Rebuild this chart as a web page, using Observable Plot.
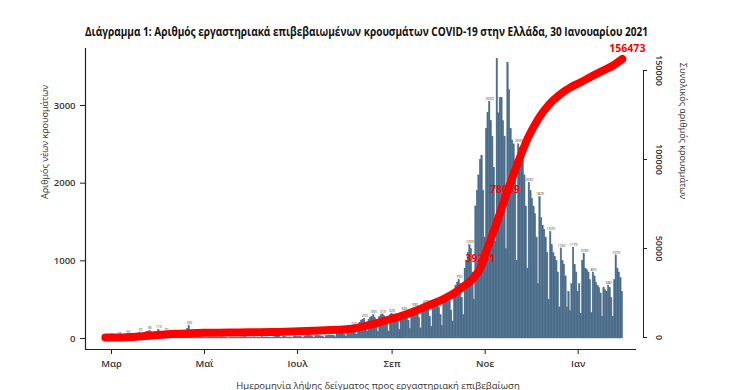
<!DOCTYPE html>
<html><head><meta charset="utf-8">
<script src="https://cdn.jsdelivr.net/npm/d3@7"></script>
<script src="https://cdn.jsdelivr.net/npm/@observablehq/plot@0.6"></script>
<style>
body{margin:0;background:#fff;width:734px;height:390px;overflow:hidden;}
#title{height:40px;box-sizing:border-box;padding:23px 0 0 85px;line-height:14px;white-space:nowrap;}
#title span{display:inline-block;font:bold 12px "Open Sans",sans-serif;color:#111;transform-origin:0 50%;}
</style></head><body>
<div id="title"><span id="tt">Διάγραμμα 1: Αριθμός εργαστηριακά επιβεβαιωμένων κρουσμάτων COVID-19 στην Ελλάδα, 30 Ιανουαρίου 2021</span></div>
<div id="chart"></div>
<script>
// Daily new cases by sample date (Feb 26 2020 .. Jan 30 2021)
const feb = [1, 1, 0, 1];
const mar = [2,3,4,10,12,18,9, 6,25,30,35,50,45,30, 20,55,60,58,65,70,50, 35,75,80,85,95,90,60, 35,70,80];
const apr = [110,90,80,60, 25,70,65,55,50,45,30, 15,35,30,40,35,30,25, 10,120,160,30,25,20,15, 8,15,20,15,12];
const may = [10,8, 4,12,15,10,14,12,8, 3,10,12,14,8,10,6, 2,8,12,10,9,11,6, 3,8,12,15,20,10,8, 3];
const jun = [12,10,15,8,10,6, 4,18,12,10,15,10,8, 5,12,15,20,35,45,12, 6,25,18,15,12,14,10, 5,25,30];
const jul = [20,18,25,15, 8,25,30,28,35,30,20, 10,30,35,28,30,25,20, 12,30,35,40,38,35,28, 15,55,60,70,75,70];
const aug = [50, 25,110,120,130,140,150,110, 50,170,200,230,240,250,190, 90,240,270,280,300,260,200, 80,280,300,310,290,270,200, 90,300];
const sep = [320,300,310,290,220, 110,320,330,340,320,300,230, 120,350,380,390,370,350,260, 130,400,420,430,410,380,280, 150,420,440,430];
const oct = [420,400,300, 160,450,480,500,520,480,360, 220,600,680,720,750,700,520, 300,900,1000,1100,1200,1150,850, 500,1700,1900,2100,2300,2350,1900];
const nov = [1300, 2700,2900,3050,2800,2600,2200, 1250, 3600,2900,3100,3100,2800,2600, 1150, 3550,3200,2700,2550,2500,2100, 1000, 2500,2450,2400,2300,2100,1700, 900, 2000];
const dec = [1900,1800,1700,1600,1300, 700, 1820,1550,1450,1400,1300,1100, 500, 1370,1200,1100,1050,1000,850, 400, 1160,1000,950,800,400,600, 350, 700,1170,950,850];
const jan = [600,700, 320, 1000,1090,900,880,850,750, 330, 850,800,720,680,650,580, 280, 650,620,600,680,650,520, 280, 750,1070,900,850,780,600];

// Cumulative total (right axis)
const cumDates = ["2020-02-26","2020-03-08","2020-03-15","2020-03-22","2020-03-29","2020-04-05","2020-04-12","2020-04-19","2020-04-26","2020-05-03","2020-05-17","2020-05-31","2020-06-14","2020-06-28","2020-07-12","2020-07-26","2020-08-02","2020-08-09","2020-08-16","2020-08-23","2020-08-30","2020-09-06","2020-09-13","2020-09-20","2020-09-27","2020-10-04","2020-10-11","2020-10-18","2020-10-25","2020-10-29","2020-11-01","2020-11-08","2020-11-14","2020-11-22","2020-11-29","2020-12-06","2020-12-13","2020-12-20","2020-12-27","2021-01-03","2021-01-10","2021-01-17","2021-01-24","2021-01-30"];
const cumValues = [1,70,330,700,1250,1700,2050,2250,2550,2650,2800,2950,3100,3350,3800,4300,4600,5400,6800,8400,10100,11800,13900,16200,18800,21300,24500,28800,34000,39251,46500,63000,78059,97000,112000,123000,131000,136500,140500,143500,146800,149800,152800,156473];

// Labelled points on the cumulative curve
const labelDates = ["2020-10-29","2020-11-14"];
const labelValues = [39251, 78059];
const lastDate = "2021-01-30";
const lastValue = 156473;

// Axis ticks
const leftTicks = [0, 1000, 2000, 3000];
const rightTicks = [0, 50000, 100000, 150000];
const monthDates = ["2020-03-01","2020-05-01","2020-07-01","2020-09-01","2020-11-01","2021-01-01"];
const monthLabels = ["Μαρ","Μαΐ","Ιουλ","Σεπ","Νοε","Ιαν"];

const DAY = 864e5;
const start = Date.UTC(2020, 1, 26);
const dailyValues = [...feb, ...mar, ...apr, ...may, ...jun, ...jul, ...aug, ...sep, ...oct, ...nov, ...dec, ...jan];
const daily = dailyValues.map((v, i) => ({date: new Date(start + i * DAY), value: v}));
const cum = cumDates.map((d, i) => ({date: new Date(d), value: cumValues[i]}));
const lbls = labelDates.map((d, i) => ({date: new Date(d), value: labelValues[i]}));
const last = [{date: new Date(lastDate), value: lastValue}];
const months = monthDates.map((d, i) => ({date: new Date(d), label: monthLabels[i]}));
// tiny value labels: highest bar of each calendar week, away from the red labels
const weekly = d3.groups(daily, d => +d3.utcMonday.floor(d.date))
  .map(([, g]) => d3.greatest(g, d => d.value))
  .filter(d => lbls.every(l => Math.abs(d.date - l.date) > 5 * DAY));

// layout helpers (pixel -> date along x, right axis -> left axis units)
const MAR1 = Date.UTC(2020, 2, 1), PXD = 1.525;
const pxDate = px => new Date(MAR1 + (px - 111) / PXD * DAY);
const cumToLeft = v => 12.5 + v * 0.022921;
const yBottom = -142;
const font = "Open Sans, sans-serif";
const bar = "#4a6b8a";

const chart = Plot.plot({
  width: 734, height: 350,
  marginLeft: 85, marginRight: 84, marginTop: 8, marginBottom: 41,
  style: {background: "#fff", fontFamily: font, overflow: "visible"},
  x: {type: "utc", domain: [pxDate(85), pxDate(650)], axis: null},
  y: {domain: [yBottom, 3734], axis: null},
  marks: [
    Plot.rectY(daily, {x1: d => new Date(+d.date - DAY / 2), x2: d => new Date(+d.date + DAY / 2), y1: 0, y2: "value", fill: bar, stroke: bar, strokeWidth: 0.4}),
    Plot.text(weekly, {x: "date", y: "value", text: d => String(d.value), dy: -3, fontSize: 3.5, fill: "#333"}),
    // left axis
    Plot.ruleX([pxDate(85)], {stroke: "#222", strokeWidth: 1.2}),
    Plot.ruleY(leftTicks, {x1: () => pxDate(80), x2: () => pxDate(85), stroke: "#222"}),
    Plot.text(leftTicks, {y: d => d, frameAnchor: "left", dx: -10, textAnchor: "end", text: d => String(d), fontSize: 9.5, fill: "#333", fontWeight: 600}),
    Plot.text(["Αριθμός νέων κρουσμάτων"], {frameAnchor: "left", dx: -40, rotate: -90, fontSize: 9, fill: "#333"}),
    // bottom axis
    Plot.ruleY([yBottom], {x1: () => pxDate(85), x2: () => pxDate(636), stroke: "#222", strokeWidth: 1.2}),
    Plot.ruleX(months, {x: "date", y1: () => yBottom, y2: () => yBottom - 64, stroke: "#222"}),
    Plot.text(months, {x: "date", text: "label", frameAnchor: "bottom", dy: 17, fontSize: 9.5, fill: "#333", fontWeight: 600}),
    Plot.text(["Ημερομηνία λήψης δείγματος προς εργαστηριακή επιβεβαίωση"], {frameAnchor: "bottom", dx: 10, dy: 39, fontSize: 9.5, fill: "#333"}),
    // right axis
    Plot.ruleX([pxDate(643)], {y1: () => cumToLeft(0), y2: () => cumToLeft(150000), stroke: "#222"}),
    Plot.ruleY(rightTicks, {y: cumToLeft, x1: () => pxDate(643), x2: () => pxDate(647), stroke: "#222"}),
    Plot.text(rightTicks, {x: () => pxDate(643), y: cumToLeft, rotate: 90, dx: 15, text: d => String(d), fontSize: 9, fill: "#333", fontWeight: 600}),
    Plot.text(["Συνολικός αριθμός κρουσμάτων"], {frameAnchor: "right", dx: 32, rotate: 90, fontSize: 9, fill: "#333"}),
    // cumulative curve + labels
    Plot.text(lbls, {x: "date", y: d => cumToLeft(d.value), text: d => String(d.value), dy: -9, fill: "red", fontWeight: "bold", fontSize: 10.5}),
    Plot.line(cum, {x: "date", y: d => cumToLeft(d.value), stroke: "red", strokeWidth: 8, curve: "monotone-x", strokeLinecap: "round", strokeLinejoin: "round"}),
    Plot.text(last, {x: "date", y: d => cumToLeft(d.value), text: d => String(d.value), dy: -10, dx: 5, fill: "red", fontWeight: "bold", fontSize: 10.5})
  ]
});
document.getElementById("chart").appendChild(chart);
// fit title to the reference's width (85px .. 648px)
const tt = document.getElementById("tt");
const tw = tt.getBoundingClientRect().width;
tt.style.transform = `scaleX(${563 / tw})`;
</script>
</body></html>
